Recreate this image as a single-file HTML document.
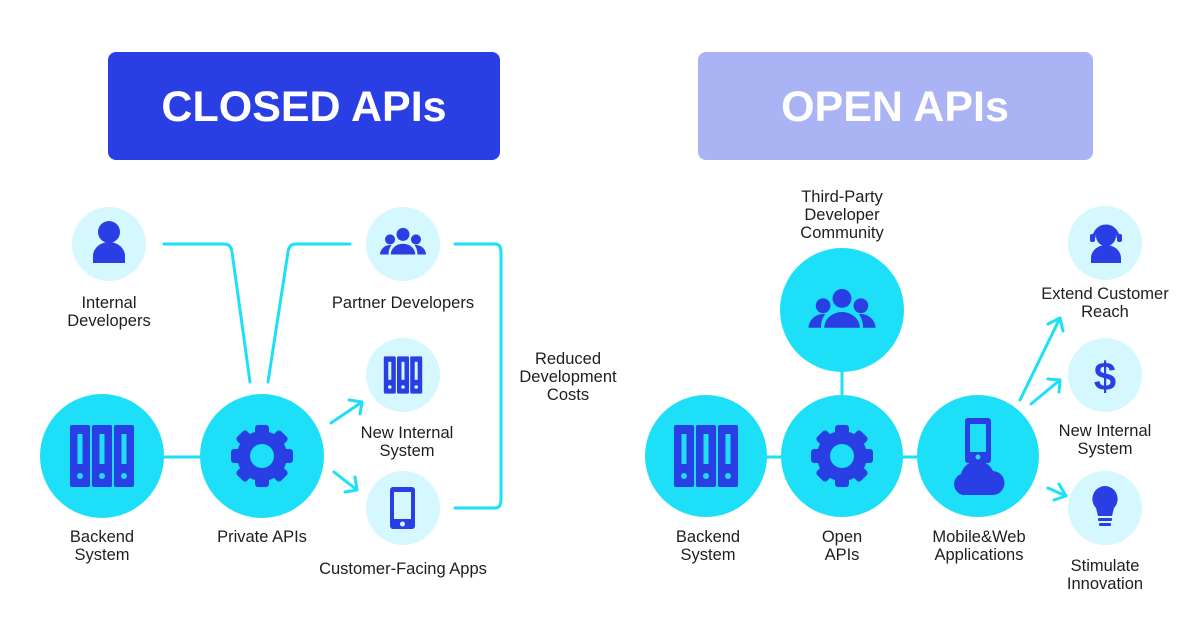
<!DOCTYPE html>
<html><head><meta charset="utf-8"><style>
html,body{margin:0;padding:0;background:#fff;}
svg{display:block;}
text{font-family:"Liberation Sans",sans-serif;}
.l{font-size:16.5px;fill:#1e1e1e;text-anchor:middle;}
</style></head><body>
<svg width="1200" height="630" viewBox="0 0 1200 630" xmlns="http://www.w3.org/2000/svg">
<defs>
 <g id="srv"><rect x="-32" y="-31" width="20" height="62" rx="2"/><rect x="-10" y="-31" width="20" height="62" rx="2"/><rect x="12" y="-31" width="20" height="62" rx="2"/>
  <g fill="#1ddff8"><rect x="-24.5" y="-22" width="5" height="30"/><rect x="-2.5" y="-22" width="5" height="30"/><rect x="19.5" y="-22" width="5" height="30"/>
  <circle cx="-22" cy="20" r="3"/><circle cx="0" cy="20" r="3"/><circle cx="22" cy="20" r="3"/></g></g>
 <g id="gear"><g><rect x="-7" y="-31" width="14" height="62" rx="3"/><rect x="-7" y="-31" width="14" height="62" rx="3" transform="rotate(45)"/><rect x="-7" y="-31" width="14" height="62" rx="3" transform="rotate(90)"/><rect x="-7" y="-31" width="14" height="62" rx="3" transform="rotate(135)"/></g><circle r="25"/><circle r="12" fill="#1ddff8"/></g>
 <g id="grp"><circle cx="0" cy="-12" r="9"/><path d="M-17 16 a17 15 0 0 1 34 0z"/><circle cx="-18" cy="-5" r="7"/><circle cx="18" cy="-5" r="7"/><path d="M-32 16 a14 14 0 0 1 16 -13 a20 20 0 0 0 -4 13z"/><path d="M32 16 a14 14 0 0 0 -16 -13 a20 20 0 0 1 4 13z"/></g>
</defs>
<!-- headers -->
<rect x="108" y="52" width="392" height="108" rx="8" fill="#2a3fe3"/>
<text x="304" y="121" font-size="43" font-weight="bold" fill="#fff" text-anchor="middle">CLOSED APIs</text>
<rect x="698" y="52" width="395" height="108" rx="8" fill="#aab3f3"/>
<text x="895" y="121" font-size="43" font-weight="bold" fill="#fff" text-anchor="middle">OPEN APIs</text>

<g fill="none" stroke="#1ddff8" stroke-width="3" stroke-linecap="round" stroke-linejoin="round">
 <path d="M164 244 H224 Q231 244 232 252 L250 382"/>
 <path d="M350 244 H296 Q289 244 288 252 L268 382"/>
 <path d="M455 244 H495 Q501 244 501 252 V500 Q501 508 495 508 H455"/>
 <path d="M331 423 L362 402 M349 400 L362 402 L360 414"/>
 <path d="M334 472 L357 490 M355 477 L357 490 L345 492"/>
 <path d="M164 457 H200"/>
 <path d="M766 457 H782 M903 457 H918 M842 372 V394"/>
 <path d="M1020 400 L1060 318 M1048 324 L1060 318 L1063 331"/>
 <path d="M1031 404 L1060 380 M1048 379 L1060 380 L1059 392"/>
 <path d="M1048 488 L1066 496 M1059 484 L1066 496 L1054 500"/>
</g>

<!-- left circles -->
<circle cx="102" cy="456" r="62" fill="#1ddff8"/>
<use href="#srv" x="102" y="456" fill="#2a3fe3"/>
<circle cx="262" cy="456" r="62" fill="#1ddff8"/>
<use href="#gear" x="262" y="456" fill="#2a3fe3"/>
<circle cx="109" cy="244" r="37" fill="#d4f8fd"/>
<g fill="#2a3fe3"><circle cx="109" cy="232" r="11"/><path d="M93 263 V256 a16 14 0 0 1 32 0 V263z"/></g>
<circle cx="403" cy="244" r="37" fill="#d4f8fd"/>
<g transform="translate(403,243) scale(0.72)" fill="#2a3fe3"><use href="#grp"/></g>
<circle cx="403" cy="375" r="37" fill="#d4f8fd"/>
<g transform="translate(403,375) scale(0.6)" fill="#2a3fe3"><g><rect x="-32" y="-31" width="20" height="62" rx="2"/><rect x="-10" y="-31" width="20" height="62" rx="2"/><rect x="12" y="-31" width="20" height="62" rx="2"/></g><g fill="#d4f8fd"><rect x="-24.5" y="-22" width="5" height="30"/><rect x="-2.5" y="-22" width="5" height="30"/><rect x="19.5" y="-22" width="5" height="30"/><circle cx="-22" cy="20" r="3"/><circle cx="0" cy="20" r="3"/><circle cx="22" cy="20" r="3"/></g></g>
<circle cx="403" cy="508" r="37" fill="#d4f8fd"/>
<rect x="390" y="487" width="25" height="42" rx="3" fill="#2a3fe3"/><rect x="394" y="492" width="17" height="27" fill="#d4f8fd"/><circle cx="402.5" cy="524" r="2.5" fill="#d4f8fd"/>

<text class="l" x="109" y="308">Internal</text><text class="l" x="109" y="326">Developers</text>
<text class="l" x="403" y="308">Partner Developers</text>
<text class="l" x="407" y="438">New Internal</text><text class="l" x="407" y="456">System</text>
<text class="l" x="568" y="364">Reduced</text><text class="l" x="568" y="382">Development</text><text class="l" x="568" y="400">Costs</text>
<text class="l" x="102" y="542">Backend</text><text class="l" x="102" y="560">System</text>
<text class="l" x="262" y="542">Private APIs</text>
<text class="l" x="403" y="574">Customer-Facing Apps</text>

<!-- right circles -->
<circle cx="706" cy="456" r="61" fill="#1ddff8"/>
<use href="#srv" x="706" y="456" fill="#2a3fe3"/>
<circle cx="842" cy="456" r="61" fill="#1ddff8"/>
<use href="#gear" x="842" y="456" fill="#2a3fe3"/>
<circle cx="978" cy="456" r="61" fill="#1ddff8"/>
<rect x="965" y="418" width="26" height="45" rx="3" fill="#2a3fe3"/><rect x="970" y="424" width="16" height="28" fill="#1ddff8"/><circle cx="978" cy="457" r="2.5" fill="#1ddff8"/>
<path d="M992 495 H963 a11 11 0 0 1 -2 -21 a17 17 0 0 1 32 -3 a12 12 0 0 1 -1 24z" fill="#2a3fe3"/>
<circle cx="842" cy="310" r="62" fill="#1ddff8"/>
<g transform="translate(842,311) scale(1.05)" fill="#2a3fe3"><use href="#grp"/></g>
<circle cx="1105" cy="243" r="37" fill="#d4f8fd"/>
<g fill="#2a3fe3"><circle cx="1106" cy="236" r="10"/><path d="M1091 263 V258 a15 13 0 0 1 30 0 V263z"/></g>
<path d="M1094 238 a12 12 0 0 1 24 0" fill="none" stroke="#2a3fe3" stroke-width="3"/>
<rect x="1090" y="234" width="5" height="8" rx="2" fill="#2a3fe3"/><rect x="1117" y="234" width="5" height="8" rx="2" fill="#2a3fe3"/>
<circle cx="1105" cy="375" r="37" fill="#d4f8fd"/>
<text x="1105" y="390" font-size="40" font-weight="bold" fill="#2a3fe3" text-anchor="middle">$</text>
<circle cx="1105" cy="508" r="37" fill="#d4f8fd"/>
<path d="M1105 486 a13 13 0 0 1 9 22 l-2 8 h-14 l-2 -8 a13 13 0 0 1 9 -22z" fill="#2a3fe3"/>
<rect x="1098" y="518" width="14" height="3" rx="1" fill="#2a3fe3"/><rect x="1099" y="523" width="12" height="3" rx="1" fill="#2a3fe3"/>

<text class="l" x="842" y="202">Third-Party</text><text class="l" x="842" y="220">Developer</text><text class="l" x="842" y="238">Community</text>
<text class="l" x="1105" y="299">Extend Customer</text><text class="l" x="1105" y="317">Reach</text>
<text class="l" x="1105" y="436">New Internal</text><text class="l" x="1105" y="454">System</text>
<text class="l" x="1105" y="571">Stimulate</text><text class="l" x="1105" y="589">Innovation</text>
<text class="l" x="708" y="542">Backend</text><text class="l" x="708" y="560">System</text>
<text class="l" x="842" y="542">Open</text><text class="l" x="842" y="560">APIs</text>
<text class="l" x="979" y="542">Mobile&amp;Web</text><text class="l" x="979" y="560">Applications</text>
</svg>
</body></html>
